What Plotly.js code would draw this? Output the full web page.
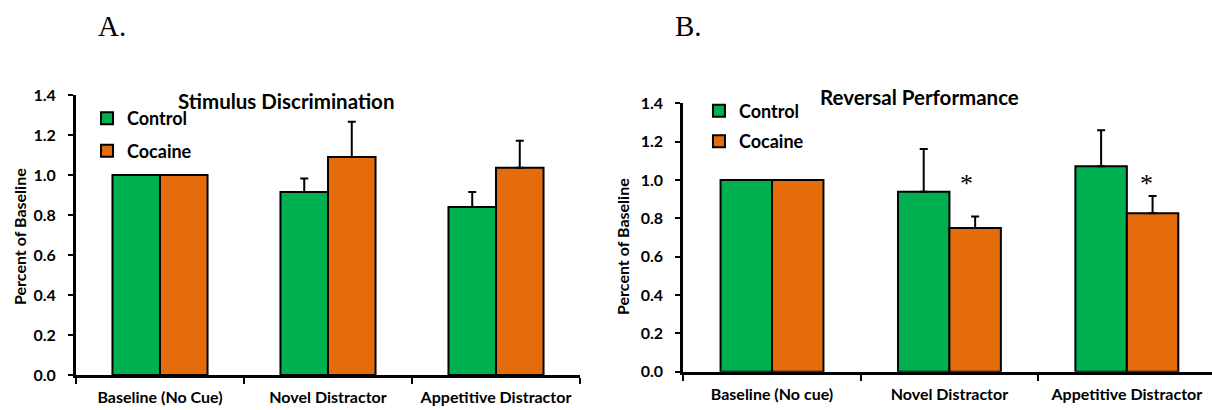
<!DOCTYPE html>
<html>
<head>
<meta charset="utf-8">
<script src="https://cdn.plot.ly/plotly-3.0.1.min.js"></script>
<style>html,body{margin:0;padding:0;background:#fff;}#chart{width:1212px;height:410px;}</style>
</head>
<body>
<div id="chart"></div>
<script>
const categoriesA = ["Baseline (No Cue)", "Novel Distractor", "Appetitive Distractor"];
const categoriesB = ["Baseline (No cue)", "Novel Distractor", "Appetitive Distractor"];
const controlA = [1.0, 0.915, 0.84];
const controlAErr = [0, 0.067, 0.075];
const cocaineA = [1.0, 1.09, 1.036];
const cocaineAErr = [0, 0.176, 0.135];
const controlB = [1.0, 0.938, 1.071];
const controlBErr = [0, 0.223, 0.188];
const cocaineB = [1.0, 0.75, 0.826];
const cocaineBErr = [0, 0.06, 0.091];
const yTicks = [0, 0.2, 0.4, 0.6, 0.8, 1.0, 1.2, 1.4];
const panelTitles = ["Stimulus Discrimination", "Reversal Performance"];
const panelLetters = ["A.", "B."];
const yTitle = "Percent of Baseline";
const sigCategories = ["Novel Distractor", "Appetitive Distractor"];
const sigLevel = 0.99;

const GREEN = "#00B050", ORANGE = "#E46C0A";
const FONT = "Lato, 'Open Sans', sans-serif";
const SERIF = "'Liberation Serif', 'Times New Roman', serif";

function barTrace(name, x, y, err, color, xa, ya, legend, off, w) {
  return {
    type: "bar", name: name, x: x, y: y, xaxis: xa, yaxis: ya, legend: legend,
    legendgroup: name + legend, offset: off, width: w,
    marker: {color: color, line: {color: "#000", width: 2}},
    error_y: {type: "data", symmetric: false, array: err, arrayminus: err.map(() => 0),
              color: "#000", thickness: 2, width: 4},
    hoverinfo: "skip"
  };
}

const wA = 0.283, wB = 0.29;
const data = [
  barTrace("Control", categoriesA, controlA, controlAErr, GREEN, "x", "y", "legend", -wA, wA),
  barTrace("Cocaine", categoriesA, cocaineA, cocaineAErr, ORANGE, "x", "y", "legend", 0, wA),
  barTrace("Control", categoriesB, controlB, controlBErr, GREEN, "x2", "y2", "legend2", -wB, wB),
  barTrace("Cocaine", categoriesB, cocaineB, cocaineBErr, ORANGE, "x2", "y2", "legend2", 0, wB)
];

function xax(domain, anchor, range) {
  return {domain: domain, anchor: anchor, type: "category", range: range, showline: true, linewidth: 3,
    linecolor: "#000", ticks: "outside", tickson: "boundaries", ticklen: 6, tickwidth: 2, tickcolor: "#000",
    showgrid: false, zeroline: false, ticklabelstandoff: 6, tickangle: 0,
    tickfont: {family: FONT, size: 16, color: "#000", weight: "bold"}, fixedrange: true};
}
function yax(domain, anchor) {
  return {domain: domain, anchor: anchor, range: [0, 1.4], tickvals: yTicks, tickformat: ".1f",
    showline: true, linewidth: 3, linecolor: "#000", ticks: "outside", ticklen: 5, tickwidth: 2,
    tickcolor: "#000", showgrid: false, zeroline: false, ticklabelstandoff: 9,
    tickfont: {family: FONT, size: 16, color: "#000", weight: "bold"}, fixedrange: true};
}

const legendBase = {bgcolor: "rgba(0,0,0,0)", borderwidth: 0, xanchor: "left", yanchor: "top",
  font: {family: FONT, size: 18, color: "#000", weight: "bold"}, itemwidth: 30};

function note(text, x, y, size, extra) {
  return Object.assign({text: text, xref: "paper", yref: "paper", x: x / 1212, y: 1 - y / 410,
    xanchor: "center", yanchor: "middle", showarrow: false,
    font: {family: FONT, size: size, color: "#000", weight: "bold"}}, extra || {});
}
function star(cat, shift) {
  return {text: "*", xref: "x2", yref: "y2", x: cat, y: sigLevel, xshift: shift, yshift: -2,
    xanchor: "center", yanchor: "middle", showarrow: false,
    font: {family: SERIF, size: 26, color: "#000"}};
}

const layout = {
  width: 1212, height: 410, margin: {l: 0, r: 0, t: 0, b: 0},
  paper_bgcolor: "#fff", plot_bgcolor: "#fff",
  barmode: "group", bargap: 0.425, bargroupgap: 0,
  showlegend: true,
  xaxis: xax([76 / 1212, 580 / 1212], "y", [-0.5, 2.5]),
  yaxis: yax([1 - 375 / 410, 1 - 95 / 410], "x"),
  xaxis2: xax([683.3 / 1212, 1], "y2", [-0.5, 2.48]),
  yaxis2: yax([1 - 371.7 / 410, 1 - 103.3 / 410], "x2"),
  legend: Object.assign({}, legendBase, {x: 0.0718, y: 0.756, tracegroupgap: 6}),
  legend2: Object.assign({}, legendBase, {x: 0.5767, y: 0.774, tracegroupgap: 4}),
  annotations: [
    note(panelLetters[0], 112, 26, 29, {font: {family: SERIF, size: 29, color: "#000"}}),
    note(panelLetters[1], 688, 26, 29, {font: {family: SERIF, size: 29, color: "#000"}}),
    note(panelTitles[0], 286, 101, 20.5),
    note(panelTitles[1], 919, 97, 20.5),
    note(yTitle, 20, 237, 16, {textangle: -90}),
    note(yTitle, 622, 247, 16, {textangle: -90}),
    star(sigCategories[0], 17),
    star(sigCategories[1], 20)
  ]
};

Plotly.newPlot("chart", data, layout, {displayModeBar: false, staticPlot: true});
</script>
</body>
</html>
